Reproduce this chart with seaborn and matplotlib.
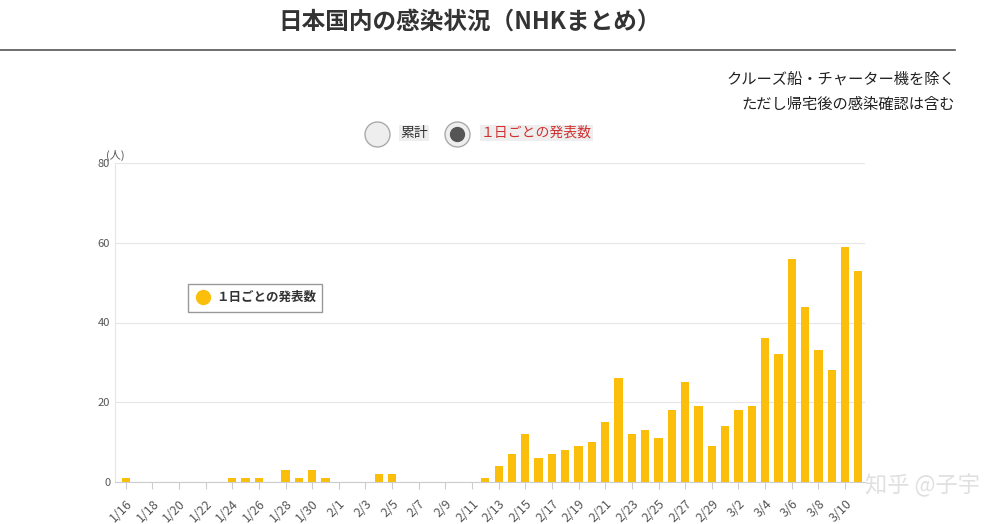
import matplotlib
matplotlib.use("Agg")
import matplotlib.pyplot as plt
import seaborn as sns
import pandas as pd
import datetime as dt
from matplotlib.patches import Rectangle

plt.rcParams["font.family"] = ["Noto Sans CJK JP", "DejaVu Sans"]

start = dt.date(2020, 1, 16)
dates = [start + dt.timedelta(days=i) for i in range(56)]
labels = [f"{d.month}/{d.day}" for d in dates]
values = [1, 0, 0, 0, 0, 0, 0, 0, 1, 1, 1, 0, 3, 1, 3, 1,
          0, 0, 0, 2, 2, 0, 0, 0, 0, 0, 0, 1, 4, 7, 12, 6, 7, 8, 9, 10,
          15, 26, 12, 13, 11, 18, 25, 19, 9,
          14, 18, 19, 36, 32, 56, 44, 33, 28, 59, 53]
yticks = [0, 20, 40, 60, 80]

df = pd.DataFrame({"date": labels, "n": values})

W, H = 1004, 524
fig = plt.figure(figsize=(W/100, H/100), dpi=100)
ax = fig.add_axes([115/W, 1-482/H, 750/W, 319/H])
sns.barplot(data=df, x="date", y="n", color="#fbbf0b", saturation=1, width=0.62, ax=ax)
ax.set_ylim(0, 80)
ax.set_xlim(-0.8, 55.5)
ax.set_yticks(yticks)
ax.set_yticklabels([str(v) for v in yticks], fontsize=8, color="#555555")
ax.set_xticks(range(0, 56, 2))
ax.set_xticklabels(labels[::2], rotation=45, ha="right", fontsize=9, color="#555555", rotation_mode="anchor")
ax.tick_params(axis="y", length=0)
ax.tick_params(axis="x", length=5, color="#cccccc", pad=6)
ax.grid(axis="y", color="#e6e6e6", lw=0.8)
ax.set_axisbelow(True)
ax.set_xlabel(""); ax.set_ylabel("")
for s in ["top", "right"]:
    ax.spines[s].set_visible(False)
ax.spines["left"].set_color("#e6e6e6")
ax.spines["bottom"].set_color("#cccccc")
fig.text(106/W, 1-155/H, "(人)", fontsize=8, color="#555555", ha="left", va="center")

fig.text(470/W, 1-22/H, "日本国内の感染状況（NHKまとめ）", ha="center", va="center",
         fontsize=17, fontweight="bold", color="#333333")
fig.add_artist(plt.Line2D([0, 955/W], [1-50/H, 1-50/H], color="#555555", lw=1.2))
fig.text(955/W, 1-79/H, "クルーズ船・チャーター機を除く", ha="right", va="center", fontsize=11, color="#222222")
fig.text(955/W, 1-104/H, "ただし帰宅後の感染確認は含む", ha="right", va="center", fontsize=11, color="#222222")

# radio buttons
for cx in (377, 457):
    fig.add_artist(plt.Line2D([cx/W], [1-134/H], marker="o", ms=18, markerfacecolor="#eeeeee",
                              markeredgecolor="#aaaaaa", lw=0, transform=fig.transFigure))
fig.add_artist(plt.Line2D([457/W], [1-134/H], marker="o", ms=10, color="#555555", lw=0, transform=fig.transFigure))
fig.text(400/W, 1-133/H, "累計", ha="left", va="center", fontsize=10, color="#333333",
         bbox=dict(facecolor="#eeeeee", edgecolor="none", pad=1))
fig.text(481/W, 1-133/H, "１日ごとの発表数", ha="left", va="center", fontsize=10, color="#d03030",
         bbox=dict(facecolor="#eeeeee", edgecolor="none", pad=1))

# legend
fig.add_artist(Rectangle((188/W, 1-312/H), 134/W, 28/H, transform=fig.transFigure,
                         facecolor="white", edgecolor="#999999", lw=1))
fig.add_artist(plt.Line2D([203/W], [1-297/H], marker="o", ms=10, color="#fbbf0b", lw=0, transform=fig.transFigure))
fig.text(216/W, 1-297/H, "１日ごとの発表数", ha="left", va="center", fontsize=9, fontweight="bold",
         color="#333333")

fig.text(980/W, 1-485/H, "知乎 @子宇", ha="right", va="center", fontsize=16, color="#dddddd", alpha=0.9)

fig.savefig("out.png", dpi=100)
